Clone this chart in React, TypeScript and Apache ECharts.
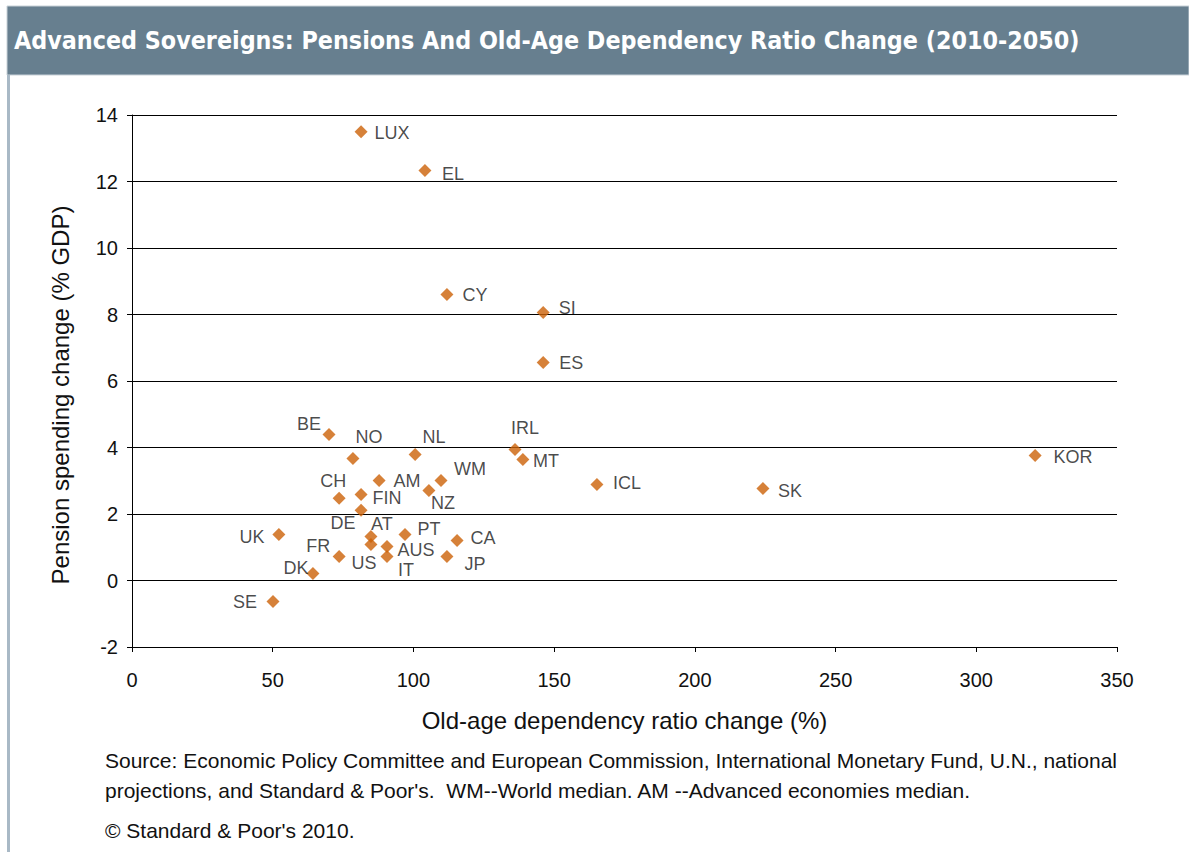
import React, { useEffect, useRef } from "react";
import * as echarts from "echarts";

const countries = ["LUX","EL","CY","SI","ES","IRL","MT","ICL","KOR","SK","BE","NO","NL","WM","AM","NZ","CH","FIN","DE","AT","US","AUS","IT","PT","CA","JP","UK","FR","DK","SE"];
const dependencyChange = [81.4,104.1,111.9,146.1,146.1,136.1,138.9,165.2,320.9,224.2,70.0,78.5,100.6,109.8,87.8,105.5,73.6,81.4,81.4,84.9,84.9,90.6,90.6,97.0,115.5,111.9,52.2,73.6,64.3,50.1];
const pensionChange = [13.5,12.33,8.6,8.06,6.56,3.94,3.64,2.89,3.76,2.77,4.39,3.67,3.79,3.01,3.01,2.71,2.47,2.59,2.11,1.32,1.08,1.02,0.72,1.38,1.2,0.72,1.38,0.72,0.21,-0.63];

// label placement (pixels relative to the marker), layout only
const labelOffsets: Record<string, [number, number]> = {
  LUX: [31, 1], EL: [28, 3], CY: [28, 0], SI: [24, -5], ES: [28, 1], IRL: [10, -21], MT: [23, 2],
  ICL: [30, -1], KOR: [38, 2], SK: [27, 3], BE: [-20, -11], NO: [16, -21], NL: [19, -17], WM: [29, -11],
  AM: [28, 1], NZ: [14, 13], CH: [-6, -17], FIN: [26, 4], DE: [-18, 13], AT: [11, -13], US: [-7, 18],
  AUS: [29, 3], IT: [19, 13], PT: [24, -6], CA: [26, -3], JP: [28, 7], UK: [-27, 2], FR: [-21, -11],
  DK: [-17, -6], SE: [-28, 1],
};

const titleText = "Advanced Sovereigns: Pensions And Old-Age Dependency Ratio Change (2010-2050)";
const xAxisTitle = "Old-age dependency ratio change (%)";
const yAxisTitle = "Pension spending change (% GDP)";
const sourceLine1 = "Source: Economic Policy Committee and European Commission, International Monetary Fund, U.N., national";
const sourceLine2 = "projections, and Standard & Poor's.  WM--World median. AM --Advanced economies median.";
const copyrightLine = "\u00A9 Standard & Poor's 2010.";

export default function App() {
  const ref = useRef<HTMLDivElement>(null);
  useEffect(() => {
    if (!ref.current) return;
    const chart = echarts.init(ref.current, undefined, { renderer: "svg" });
    const font = "'Liberation Sans', Arial, sans-serif";
    const data = countries.map((c, i) => ({
      name: c,
      value: [dependencyChange[i], pensionChange[i]],
      label: { offset: labelOffsets[c] },
    }));
    chart.setOption({
      animation: false,
      backgroundColor: "#ffffff",
      grid: { left: 132, right: 72, top: 115, bottom: 205, containLabel: false },
      xAxis: [
        {
          type: "value", min: 0, max: 350, interval: 50, position: "bottom",
          axisLine: { show: false }, axisTick: { show: false }, splitLine: { show: false },
          axisLabel: { color: "#111", fontFamily: font, fontSize: 20, margin: 23 },
          name: xAxisTitle, nameLocation: "middle", nameGap: 61,
          nameTextStyle: { color: "#111", fontFamily: font, fontSize: 24 },
        },
        {
          type: "value", min: 0, max: 350, interval: 50, position: "bottom",
          axisLine: { show: true, onZero: true, lineStyle: { color: "#000", width: 1 } },
          axisTick: { show: true, inside: false, length: 5, lineStyle: { color: "#000" } },
          axisLabel: { show: false }, splitLine: { show: false },
        },
      ],
      yAxis: {
        type: "value", min: -2, max: 14, interval: 2,
        axisLine: { show: true, lineStyle: { color: "#000", width: 1 } },
        axisTick: { show: true, inside: false, length: 5, lineStyle: { color: "#000" } },
        splitLine: { show: true, lineStyle: { color: "#000", width: 1 } },
        axisLabel: { color: "#111", fontFamily: font, fontSize: 20, margin: 14 },
      },
      series: [
        {
          type: "scatter", xAxisIndex: 0, yAxisIndex: 0,
          symbol: "diamond", symbolSize: 13,
          itemStyle: { color: "#cc6208" },
          label: {
            show: true, position: "inside", formatter: "{b}",
            color: "#1a1a1a", fontFamily: font, fontSize: 18,
          },
          data,
        },
      ],
      graphic: [
        { type: "rect", shape: { x: 7, y: 6, width: 1182, height: 69 }, style: { fill: "#677f8f", stroke: "#c9d2d8", lineWidth: 1 } },
        { type: "rect", shape: { x: 7, y: 75, width: 3, height: 777 }, style: { fill: "#a9b9c6" } },
        {
          type: "text", x: 14, y: 40,
          style: { text: titleText, fill: "#ffffff", font: "bold 24.8px 'DejaVu Sans Condensed', 'DejaVu Sans', sans-serif", textVerticalAlign: "middle" },
        },
        {
          type: "text", x: 60, y: 395, rotation: Math.PI / 2,
          style: { text: yAxisTitle, fill: "#111", font: "24px 'Liberation Sans', Arial, sans-serif", textAlign: "center", textVerticalAlign: "middle" },
        },
        { type: "text", x: 105, y: 760, style: { text: sourceLine1, fill: "#111", font: "21px 'Liberation Sans', Arial, sans-serif", textVerticalAlign: "middle" } },
        { type: "text", x: 105, y: 790, style: { text: sourceLine2, fill: "#111", font: "21px 'Liberation Sans', Arial, sans-serif", textVerticalAlign: "middle" } },
        { type: "text", x: 105, y: 830, style: { text: copyrightLine, fill: "#111", font: "21px 'Liberation Sans', Arial, sans-serif", textVerticalAlign: "middle" } },
      ],
    });
    return () => chart.dispose();
  }, []);
  return <div ref={ref} style={{ position: "absolute", left: 0, top: 0, width: 1189, height: 852 }} />;
}
